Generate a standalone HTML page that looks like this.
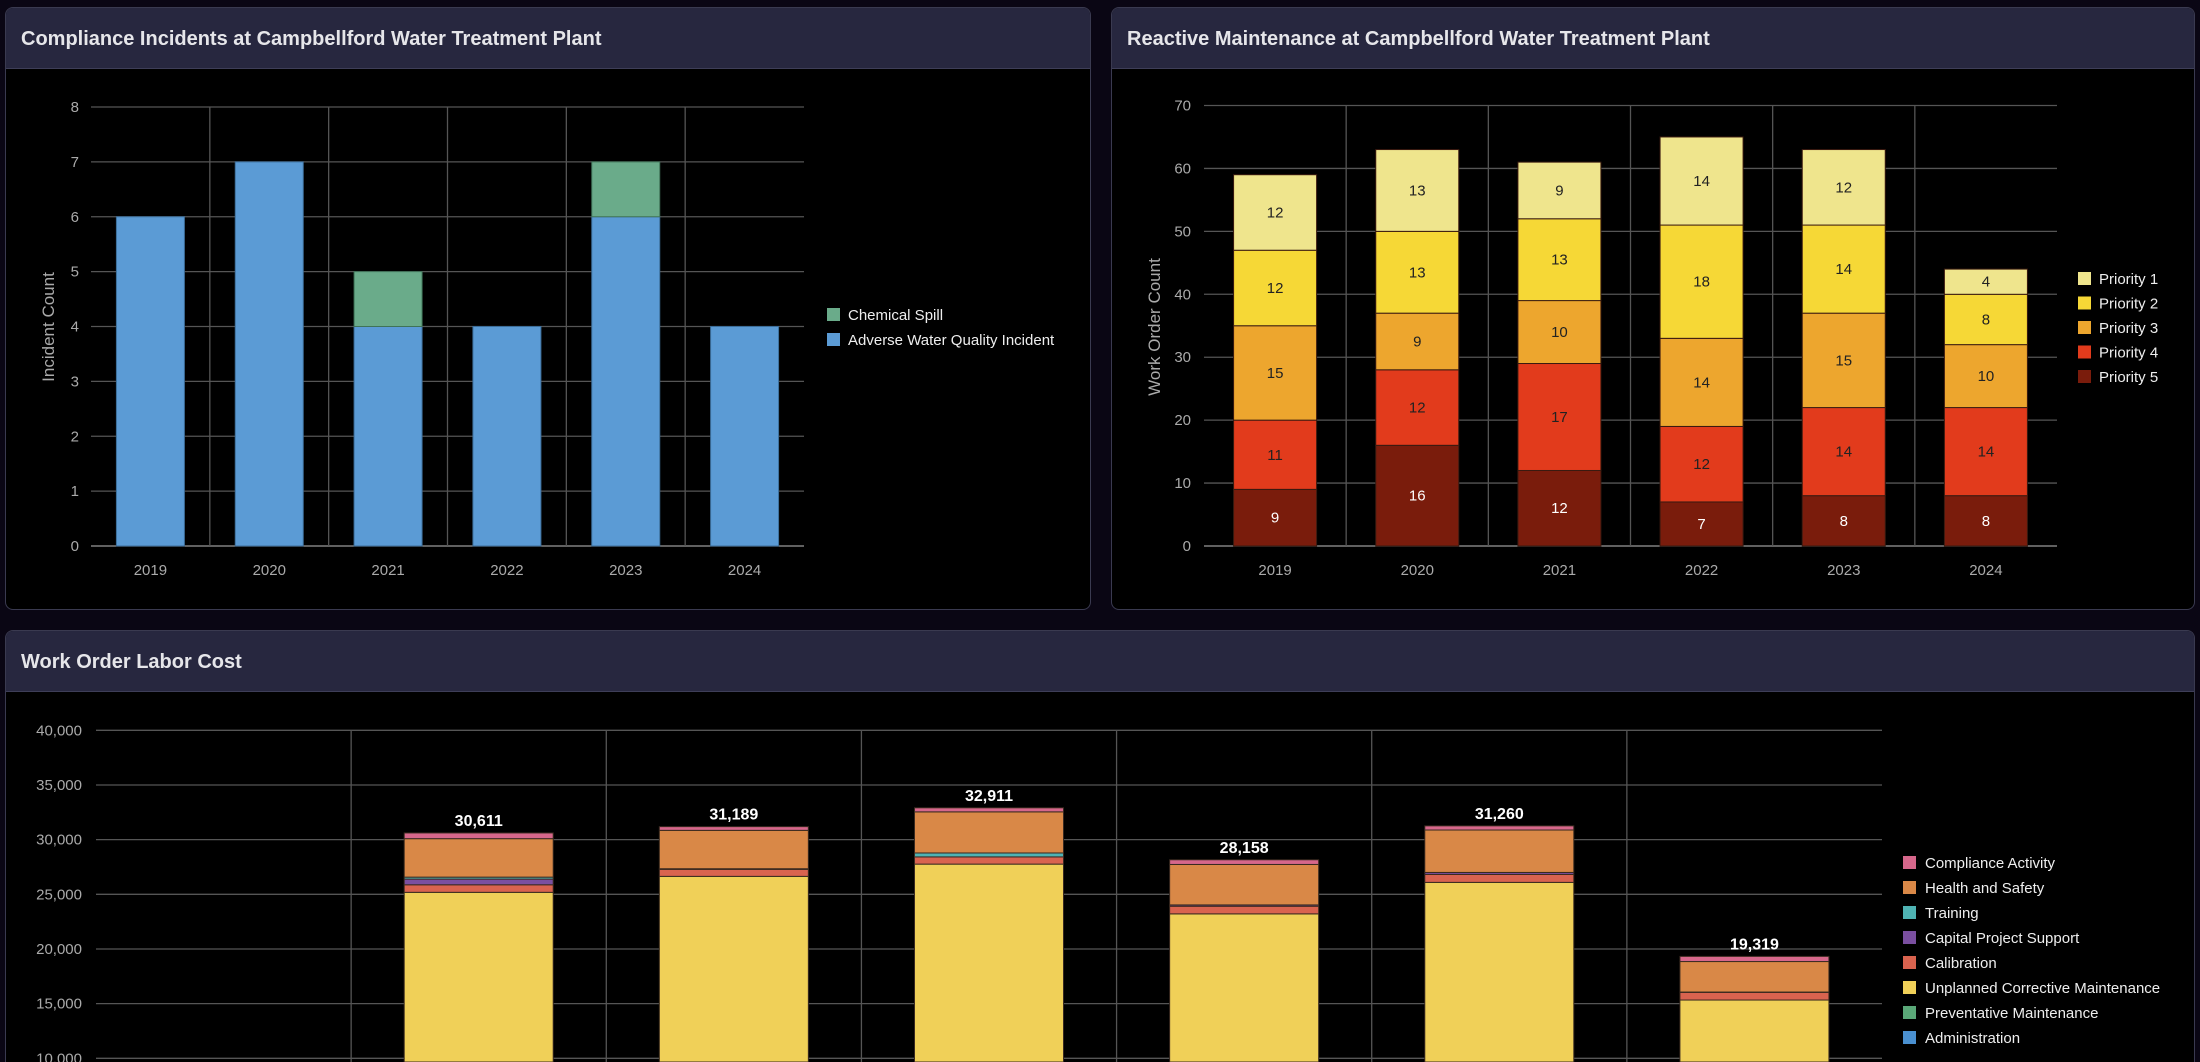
<!DOCTYPE html>
<html><head><meta charset="utf-8">
<style>
html,body{margin:0;padding:0;width:2200px;height:1062px;overflow:hidden;background:#0a0614;font-family:"Liberation Sans",sans-serif}
.panel{position:absolute;background:#000;border:1px solid #3a3a50;border-radius:8px;overflow:hidden;box-sizing:border-box}
.hdr{height:61px;background:#27273f;border-bottom:1px solid #3e3e58;box-sizing:border-box;color:#e6e6ea;font-size:20px;font-weight:bold;padding:0 0 0 15px;line-height:62px}
svg{position:absolute;left:0;top:0}
text{font-family:"Liberation Sans",sans-serif}
</style></head><body>
<div class="panel" style="left:5px;top:7px;width:1086px;height:603px"><div class="hdr">Compliance Incidents at Campbellford Water Treatment Plant</div></div>
<div class="panel" style="left:1111px;top:7px;width:1084px;height:603px"><div class="hdr">Reactive Maintenance at Campbellford Water Treatment Plant</div></div>
<div class="panel" style="left:5px;top:630px;width:2190px;height:432px;border-bottom:none;border-radius:8px 8px 0 0"><div class="hdr">Work Order Labor Cost</div></div>
<svg id="chart" width="2200" height="1062"></svg>
<script>
// Chart 1
const c1Years = ["2019","2020","2021","2022","2023","2024"];
const c1Adverse = [6,7,4,4,6,4];
const c1Spill = [0,0,1,0,1,0];
const c1Ticks = [0,1,2,3,4,5,6,7,8];
// Chart 2
const c2Years = ["2019","2020","2021","2022","2023","2024"];
const p5 = [9,16,12,7,8,8];
const p4 = [11,12,17,12,14,14];
const p3 = [15,9,10,14,15,10];
const p2 = [12,13,13,18,14,8];
const p1 = [12,13,9,14,12,4];
const c2Ticks = [0,10,20,30,40,50,60,70];
// Chart 3
const c3Cats = ["2018","2019","2020","2021","2022","2023","2024"];
const admin = [0,0,0,0,0,0,0];
const prevent = [0,0,0,0,0,0,0];
const unplanned = [0,25180,26640,27760,23210,26090,15330];
const calib = [0,690,640,660,700,730,700];
const capital = [0,520,60,0,120,180,30];
const training = [0,180,0,360,0,0,0];
const health = [0,3520,3510,3760,3700,3880,2790];
const compliance = [0,521,339,371,428,380,469];
const c3Ticks = [0,5000,10000,15000,20000,25000,30000,35000,40000];

const NS="http://www.w3.org/2000/svg";
const svg=document.getElementById('chart');
function mk(tag,attrs,parent){const e=document.createElementNS(NS,tag);for(const k in attrs)e.setAttribute(k,attrs[k]);(parent||svg).appendChild(e);return e;}
function txt(s,attrs){const e=mk('text',attrs);e.textContent=s;return e;}

// ---------- Chart 1 ----------
(function(){
 const L=91,R=804,y0=546,y8=107;const sw=(R-L)/c1Years.length,bw=68;
 const y=v=>y0-(v/8)*(y0-y8);
 c1Ticks.forEach(t=>{const l=mk('line',{x1:L,x2:R,y1:y(t),y2:y(t),stroke:t===0?'#999':'#555','stroke-width':1.3});
 
 const tt=txt(t,{x:79,y:y(t)+5,'text-anchor':'end',fill:'#aaa','font-size':15});
 });
 for(let i=1;i<c1Years.length;i++){const l=mk('line',{x1:L+i*sw,x2:L+i*sw,y1:y8,y2:y0,stroke:'#555','stroke-width':1.3});
 }
 c1Years.forEach((yr,i)=>{const cx=L+(i+.5)*sw;
  const a=mk('rect',{x:cx-bw/2,y:y(c1Adverse[i]),width:bw,height:y0-y(c1Adverse[i]),fill:'#5b9bd5',stroke:'#3c6e9a','stroke-width':1});
  
  if(c1Spill[i]>0){const s=mk('rect',{x:cx-bw/2,y:y(c1Adverse[i]+c1Spill[i]),width:bw,height:y(c1Adverse[i])-y(c1Adverse[i]+c1Spill[i]),fill:'#6aab8a',stroke:'#3f7358','stroke-width':1});
  }
  const t=txt(yr,{x:cx,y:575,'text-anchor':'middle',fill:'#aaa','font-size':15});
  });
 const yt=txt('Incident Count',{x:0,y:0,transform:'translate(54,327) rotate(-90)','text-anchor':'middle',fill:'#aaa','font-size':17});
 
 [['Chemical Spill','#6aab8a',315],['Adverse Water Quality Incident','#5b9bd5',340]].forEach(([n,c,yy])=>{
  const r=mk('rect',{x:827,y:yy-7,width:13,height:13,fill:c});
  const t=txt(n,{x:848,y:yy+5,fill:'#eee','font-size':15});});
})();

// ---------- Chart 2 ----------
(function(){
 const L=1204,R=2057,y0=546,yT=105.5;const sw=(R-L)/c2Years.length,bw=83;
 const y=v=>y0-(v/70)*(y0-yT);
 c2Ticks.forEach(t=>{const l=mk('line',{x1:L,x2:R,y1:y(t),y2:y(t),stroke:t===0?'#999':'#555','stroke-width':1.3});
 
 const tt=txt(t,{x:1191,y:y(t)+5,'text-anchor':'end',fill:'#aaa','font-size':15});
 });
 for(let i=1;i<c2Years.length;i++){const l=mk('line',{x1:L+i*sw,x2:L+i*sw,y1:yT,y2:y0,stroke:'#555','stroke-width':1.3});
 }
 const series=[['Priority 5',p5,'#7a1c0c','#fff'],['Priority 4',p4,'#e23b1c','#222'],['Priority 3',p3,'#eda62e','#222'],['Priority 2',p2,'#f6d836','#222'],['Priority 1',p1,'#efe58d','#222']];
 c2Years.forEach((yr,i)=>{const cx=L+(i+.5)*sw;let acc=0;
  series.forEach(([n,arr,c,tc])=>{const v=arr[i];const r=mk('rect',{x:cx-bw/2,y:y(acc+v),width:bw,height:y(acc)-y(acc+v),fill:c,stroke:'#3a1a10','stroke-width':1});
   
   const t=txt(v,{x:cx,y:(y(acc)+y(acc+v))/2+5,'text-anchor':'middle',fill:tc,'font-size':15});
   acc+=v;});
  const t=txt(yr,{x:cx,y:575,'text-anchor':'middle',fill:'#aaa','font-size':15});
  });
 const yt=txt('Work Order Count',{x:0,y:0,transform:'translate(1160,327) rotate(-90)','text-anchor':'middle',fill:'#aaa','font-size':17});
 
 series.slice().reverse().forEach(([n,arr,c],k)=>{const yy=279+k*24.5;
  const r=mk('rect',{x:2078,y:yy-7,width:13,height:13,fill:c});
  const t=txt(n,{x:2099,y:yy+5,fill:'#eee','font-size':15});});
})();

// ---------- Chart 3 ----------
(function(){
 const L=96,R=1882,y40=730.3,y10=1058.3;const per=(y10-y40)/30000;const y0=y10+10000*per;
 const sw=(R-L)/c3Cats.length,bw=149;const y=v=>y0-v*per;
 c3Ticks.forEach(t=>{if(y(t)>1062)return;const l=mk('line',{x1:L,x2:R,y1:y(t),y2:y(t),stroke:'#555','stroke-width':1.3});
 
 const tt=txt(t.toLocaleString('en-US'),{x:82,y:y(t)+5,'text-anchor':'end',fill:'#aaa','font-size':15});
 });
 for(let i=1;i<c3Cats.length;i++){const l=mk('line',{x1:L+i*sw,x2:L+i*sw,y1:y40,y2:1062,stroke:'#555','stroke-width':1.3});
 }
 const series=[['Administration',admin,'#4a90d0'],['Preventative Maintenance',prevent,'#5aa878'],['Unplanned Corrective Maintenance',unplanned,'#f0d058'],['Calibration',calib,'#d9634f'],['Capital Project Support',capital,'#7a4fa0'],['Training',training,'#4fb3b3'],['Health and Safety',health,'#d98847'],['Compliance Activity',compliance,'#d6678b']];
 c3Cats.forEach((c,i)=>{const cx=L+(i+.5)*sw;let acc=0;
  series.forEach(([n,arr,col])=>{const v=arr[i];if(v<=0)return;const top=y(acc+v);const bot=Math.min(y(acc),1062);
   const r=mk('rect',{x:cx-bw/2,y:top,width:bw,height:Math.max(0,bot-top),fill:col,stroke:'#3a2a20','stroke-width':1});
   acc+=v;});
  if(acc>0){const t=txt(Math.round(acc).toLocaleString('en-US'),{x:cx,y:y(acc)-7,'text-anchor':'middle',fill:'#fff','font-size':16,'font-weight':'bold'});
  }});
 series.slice().reverse().forEach(([n,arr,col],k)=>{const yy=863+k*25;
  const r=mk('rect',{x:1903,y:yy-7,width:13,height:13,fill:col});
  const t=txt(n,{x:1925,y:yy+5,fill:'#eee','font-size':15});});
})();
</script>
</body></html>
